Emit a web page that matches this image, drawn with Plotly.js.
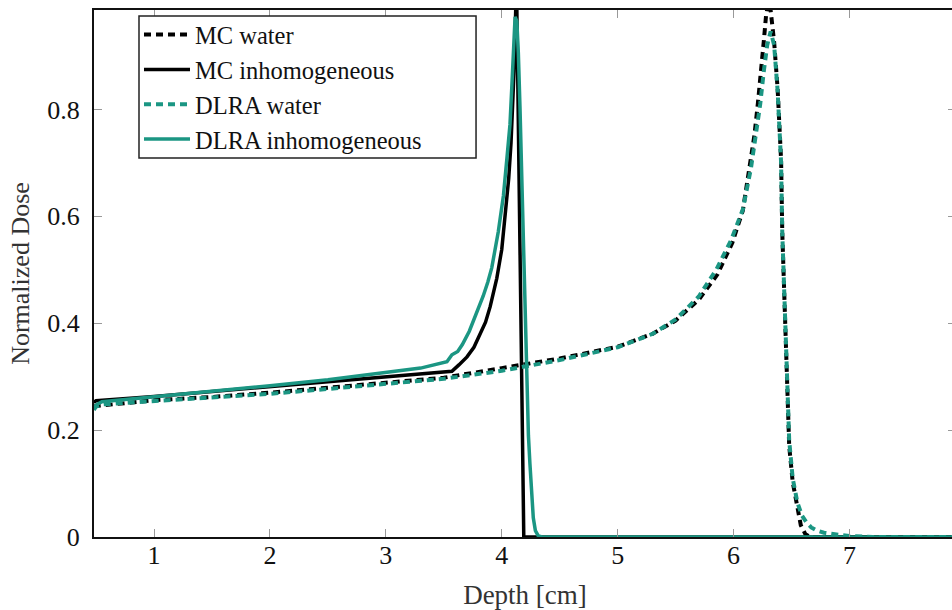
<!DOCTYPE html>
<html>
<head>
<meta charset="utf-8">
<script src="https://cdn.plot.ly/plotly-3.0.1.min.js"></script>
<style>
html,body{margin:0;padding:0;overflow:hidden;background:#fff;}
#chart{width:962px;height:610px;}
</style>
</head>
<body>
<div id="chart"></div>
<script>
// MC water
const mcWaterX = [0.48,0.5,1.0,1.5,2.0,2.5,3.0,3.5,4.0,4.5,5.0,5.3,5.5,5.7,5.86,5.99,6.08,6.14,6.18,6.21,6.24,6.26,6.28,6.30,6.32,6.35,6.38,6.41,6.42,6.44,6.46,6.48,6.51,6.55,6.58,6.62,6.66,7.0,7.5,7.92];
const mcWaterY = [0.244,0.245,0.256,0.262,0.270,0.279,0.288,0.298,0.316,0.334,0.356,0.380,0.405,0.444,0.491,0.551,0.611,0.691,0.752,0.812,0.873,0.926,0.975,1.0,0.985,0.926,0.839,0.705,0.571,0.437,0.304,0.170,0.103,0.056,0.022,0.005,0,0,0,0];
// MC inhomogeneous
const mcInhX = [0.48,0.5,1.0,1.5,2.0,2.5,3.0,3.3,3.57,3.63,3.70,3.76,3.81,3.86,3.90,3.957,4.0,4.03,4.06,4.08,4.095,4.106,4.115,4.122,4.13,4.14,4.15,4.16,4.17,4.18,4.186,4.19,4.3,5,6,7,7.92];
const mcInhY = [0.252,0.255,0.263,0.272,0.282,0.291,0.299,0.304,0.310,0.322,0.337,0.355,0.377,0.402,0.431,0.484,0.538,0.605,0.671,0.738,0.805,0.872,0.940,1.0,0.99,0.82,0.65,0.48,0.31,0.13,0.02,0,0,0,0,0,0];
// DLRA water
const dlraWaterX = [0.48,0.5,0.55,1.0,1.5,2.0,2.5,3.0,3.5,4.0,4.5,5.0,5.3,5.5,5.7,5.85,5.98,6.08,6.15,6.19,6.23,6.26,6.29,6.32,6.35,6.38,6.41,6.42,6.44,6.46,6.48,6.51,6.55,6.59,6.63,6.67,6.72,6.78,6.85,6.91,7.0,7.06,7.2,7.5,7.92];
const dlraWaterY = [0.238,0.244,0.248,0.254,0.261,0.268,0.277,0.286,0.296,0.311,0.331,0.355,0.380,0.407,0.450,0.500,0.556,0.613,0.690,0.750,0.810,0.870,0.920,0.946,0.920,0.835,0.700,0.570,0.440,0.310,0.180,0.110,0.065,0.040,0.027,0.018,0.012,0.008,0.005,0.004,0.002,0.001,0,0,0];
// DLRA inhomogeneous
const dlraInhX = [0.48,0.5,0.55,1.0,1.5,2.0,2.5,3.0,3.3,3.527,3.55,3.57,3.62,3.66,3.72,3.756,3.80,3.84,3.88,3.914,3.97,4.014,4.043,4.071,4.086,4.10,4.115,4.13,4.143,4.157,4.172,4.186,4.20,4.215,4.23,4.243,4.26,4.272,4.29,4.315,4.35,5,6,7,7.92];
const dlraInhY = [0.240,0.247,0.253,0.262,0.272,0.283,0.294,0.307,0.316,0.328,0.336,0.341,0.347,0.360,0.385,0.404,0.427,0.451,0.477,0.504,0.571,0.638,0.705,0.772,0.839,0.906,0.973,0.965,0.906,0.806,0.671,0.538,0.404,0.270,0.190,0.137,0.080,0.036,0.012,0.002,0,0,0,0,0];

const seriesNames = ["MC water","MC inhomogeneous","DLRA water","DLRA inhomogeneous"];
const xTicks = [1,2,3,4,5,6,7];
const yTicks = [0,0.2,0.4,0.6,0.8];
const yTickText = ["0","0.2","0.4","0.6","0.8"];

const teal = "#1b9683";
const fontFam = "'Liberation Serif', 'Times New Roman', serif";

const traces = [
  {x: mcWaterX, y: mcWaterY, name: seriesNames[0], mode: "lines", line: {color: "#000", width: 4, dash: "7px,5px"}},
  {x: mcInhX, y: mcInhY, name: seriesNames[1], mode: "lines", line: {color: "#000", width: 3.5}},
  {x: dlraWaterX, y: dlraWaterY, name: seriesNames[2], mode: "lines", line: {color: teal, width: 4, dash: "7px,5px"}},
  {x: dlraInhX, y: dlraInhY, name: seriesNames[3], mode: "lines", line: {color: teal, width: 3.5}}
];

const layout = {
  width: 962, height: 610,
  margin: {l: 94, r: 6, t: 10, b: 73},
  paper_bgcolor: "#fff", plot_bgcolor: "#fff",
  font: {family: fontFam, size: 26, color: "#111"},
  showlegend: true,
  legend: {
    x: 0.0522, y: 0.996, xanchor: "left", yanchor: "top",
    bgcolor: "rgba(0,0,0,0)", borderwidth: 0,
    font: {family: fontFam, size: 24.5, color: "#111"},
    itemwidth: 46, tracegroupgap: 0
  },
  shapes: [{
    type: "rect", xref: "paper", yref: "paper",
    x0: 0.0522, x1: 0.4432, y0: 0.719, y1: 0.9886,
    fillcolor: "#fff", line: {color: "#222", width: 1.5}, layer: "above"
  }],
  xaxis: {
    range: [0.482, 7.919],
    tickvals: xTicks, ticktext: xTicks.map(String),
    ticks: "inside", ticklen: 8, tickcolor: "#999", tickwidth: 1,
    showline: true, linecolor: "#111", linewidth: 2, mirror: "ticks",
    showgrid: false, zeroline: false,
    tickfont: {family: fontFam, size: 26, color: "#111"},
    ticklabelstandoff: -6,
    title: {text: "Depth [cm]", font: {family: fontFam, size: 27, color: "#333"}, standoff: 18}
  },
  yaxis: {
    range: [0, 0.986],
    tickvals: yTicks, ticktext: yTickText,
    ticks: "inside", ticklen: 8, tickcolor: "#999", tickwidth: 1,
    showline: true, linecolor: "#111", linewidth: 2, mirror: "ticks",
    showgrid: false, zeroline: false,
    tickfont: {family: fontFam, size: 26, color: "#111"},
    ticklabelstandoff: 7,
    title: {text: "Normalized Dose", font: {family: fontFam, size: 26, color: "#333"}, standoff: 10}
  }
};

Plotly.newPlot("chart", traces, layout, {staticPlot: true, displayModeBar: false});
</script>
</body>
</html>
